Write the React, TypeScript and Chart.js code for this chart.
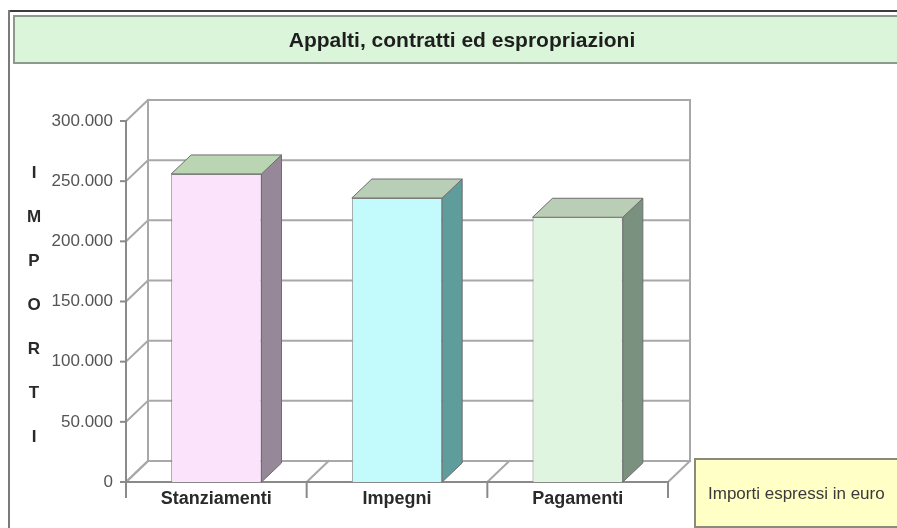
import React, { useEffect, useRef } from 'react';
import { Chart, registerables } from 'chart.js';

Chart.register(...registerables);

const categories = ['Stanziamenti', 'Impegni', 'Pagamenti'];
const values = [256000, 236000, 220000];
const yTicks = [0, 50000, 100000, 150000, 200000, 250000, 300000];
const frontColors = ['#fbe4fb', '#c3fbfd', '#e0f5e0'];
const sideColors = ['#968799', '#5f9c9c', '#7b917f'];
const topColors = ['#b9d5b1', '#b9ceb6', '#bacdb5'];
const titleText = 'Appalti, contratti ed espropriazioni';
const axisTitle = 'IMPORTI';
const noteText = 'Importi espressi in euro';

const WALL_DX = 22;
const WALL_DY = -21;
const BAR_DX = 20;
const BAR_DY = -19;
const FONT = '"Liberation Sans", Arial, sans-serif';

function fmt(v: number | string): string {
  return String(v).replace(/\B(?=(\d{3})+(?!\d))/g, '.');
}

function line(ctx: CanvasRenderingContext2D, x1: number, y1: number, x2: number, y2: number) {
  ctx.beginPath();
  ctx.moveTo(x1, y1);
  ctx.lineTo(x2, y2);
  ctx.stroke();
}

const decorPlugin = {
  id: 'decor',
  beforeDraw(chart: any) {
    const ctx: CanvasRenderingContext2D = chart.ctx;
    const W = chart.width;
    const H = chart.height;
    ctx.save();
    ctx.fillStyle = '#ffffff';
    ctx.fillRect(0, 0, W, H);
    // outer frame
    ctx.fillStyle = '#3c3c3c';
    ctx.fillRect(8, 10, W - 8, 2);
    ctx.fillStyle = '#7a7a7a';
    ctx.fillRect(8, 10, 2, H - 10);
    // title box
    ctx.fillStyle = '#daf5da';
    ctx.fillRect(14, 16, W, 47);
    ctx.strokeStyle = '#8c9a8c';
    ctx.lineWidth = 2;
    ctx.strokeRect(14, 16, W, 47);
    ctx.fillStyle = '#1e1e1e';
    ctx.font = `bold 21px ${FONT}`;
    ctx.textAlign = 'center';
    ctx.textBaseline = 'middle';
    ctx.fillText(titleText, 462, 41);
    // note box
    ctx.fillStyle = '#ffffc6';
    ctx.fillRect(695, 459, W, 68);
    ctx.strokeStyle = '#8a8a7a';
    ctx.lineWidth = 2;
    ctx.strokeRect(695, 459, W, 68);
    ctx.fillStyle = '#3a3a3a';
    ctx.font = `17px ${FONT}`;
    ctx.textAlign = 'left';
    ctx.fillText(noteText, 708, 494);
    // vertical axis title
    ctx.fillStyle = '#2a2a2a';
    ctx.font = `bold 17px ${FONT}`;
    ctx.textAlign = 'center';
    axisTitle.split('').forEach((ch, i) => {
      ctx.fillText(ch, 34, 173 + i * 44);
    });
    ctx.restore();
  },
  beforeDatasetsDraw(chart: any) {
    const ctx: CanvasRenderingContext2D = chart.ctx;
    const { left: L, right: R, top: T, bottom: B } = chart.chartArea;
    const ys = chart.scales.y;
    const xs = chart.scales.x;
    ctx.save();
    ctx.lineCap = 'square';
    // back wall fill
    ctx.fillStyle = '#ffffff';
    ctx.fillRect(L + WALL_DX, T + WALL_DY, R - L, B - T);
    ctx.strokeStyle = '#a8a8a8';
    ctx.lineWidth = 2;
    yTicks.forEach((v) => {
      const y = ys.getPixelForValue(v);
      line(ctx, L + WALL_DX, y + WALL_DY, R + WALL_DX, y + WALL_DY);
      line(ctx, L, y, L + WALL_DX, y + WALL_DY);
    });
    line(ctx, L + WALL_DX, T + WALL_DY, L + WALL_DX, B + WALL_DY);
    line(ctx, R + WALL_DX, T + WALL_DY, R + WALL_DX, B + WALL_DY);
    // floor dividers
    const n = categories.length;
    for (let i = 0; i <= n; i++) {
      const xb = xs.getPixelForDecimal(i / n);
      ctx.strokeStyle = '#a8a8a8';
      line(ctx, xb, B, xb + WALL_DX, B + WALL_DY);
      ctx.strokeStyle = '#8a8a8a';
      line(ctx, xb, B, xb, B + 15);
    }
    // front floor edge and front axis
    ctx.strokeStyle = '#8a8a8a';
    line(ctx, L, B, R, B);
    line(ctx, L, T, L, B);
    yTicks.forEach((v) => {
      const y = ys.getPixelForValue(v);
      line(ctx, L - 5, y, L, y);
    });
    ctx.restore();
  },
  afterDatasetsDraw(chart: any) {
    const ctx: CanvasRenderingContext2D = chart.ctx;
    const meta = chart.getDatasetMeta(0);
    ctx.save();
    ctx.strokeStyle = '#6e6e6e';
    ctx.lineWidth = 1;
    meta.data.forEach((bar: any, i: number) => {
      const { x, y, base, width } = bar.getProps(['x', 'y', 'base', 'width'], true);
      const l = x - width / 2;
      const r = x + width / 2;
      ctx.fillStyle = sideColors[i];
      ctx.beginPath();
      ctx.moveTo(r, y);
      ctx.lineTo(r + BAR_DX, y + BAR_DY);
      ctx.lineTo(r + BAR_DX, base + BAR_DY);
      ctx.lineTo(r, base);
      ctx.closePath();
      ctx.fill();
      ctx.stroke();
      ctx.fillStyle = topColors[i];
      ctx.beginPath();
      ctx.moveTo(l, y);
      ctx.lineTo(l + BAR_DX, y + BAR_DY);
      ctx.lineTo(r + BAR_DX, y + BAR_DY);
      ctx.lineTo(r, y);
      ctx.closePath();
      ctx.fill();
      ctx.stroke();
    });
    ctx.restore();
  },
};

export default function App() {
  const canvasRef = useRef<HTMLCanvasElement | null>(null);

  useEffect(() => {
    const canvas = canvasRef.current;
    if (!canvas) return;
    const chart = new Chart(canvas, {
      type: 'bar',
      data: {
        labels: categories,
        datasets: [
          {
            data: values,
            backgroundColor: frontColors,
            borderColor: '#8c8c8c',
            borderWidth: 1,
            barPercentage: 0.5,
            categoryPercentage: 1,
          },
        ],
      },
      options: {
        responsive: false,
        animation: false,
        events: [],
        layout: { padding: { left: 0, top: 121, right: 897 - 668, bottom: 0 } },
        plugins: {
          legend: { display: false },
          tooltip: { enabled: false },
          title: { display: false },
        },
        scales: {
          x: {
            grid: { display: false, drawTicks: false },
            border: { display: false },
            ticks: {
              font: { family: FONT, size: 18, weight: 'bold' },
              color: '#2a2a2a',
              padding: 6,
              maxRotation: 0,
              autoSkip: false,
            },
            afterFit: (s: any) => {
              s.height = 46;
            },
          },
          y: {
            min: 0,
            max: 300000,
            grid: { display: false, drawTicks: false },
            border: { display: false },
            ticks: {
              stepSize: 50000,
              callback: (v: any) => fmt(v),
              font: { family: FONT, size: 17 },
              color: '#555555',
              padding: 13,
            },
            afterFit: (s: any) => {
              s.width = 126;
            },
          },
        },
      },
      plugins: [decorPlugin],
    } as any);
    return () => chart.destroy();
  }, []);

  return (
    <div style={{ position: 'absolute', left: 0, top: 0, width: 897, height: 528 }}>
      <canvas ref={canvasRef} width={897} height={528} style={{ display: 'block', width: 897, height: 528 }} />
    </div>
  );
}
